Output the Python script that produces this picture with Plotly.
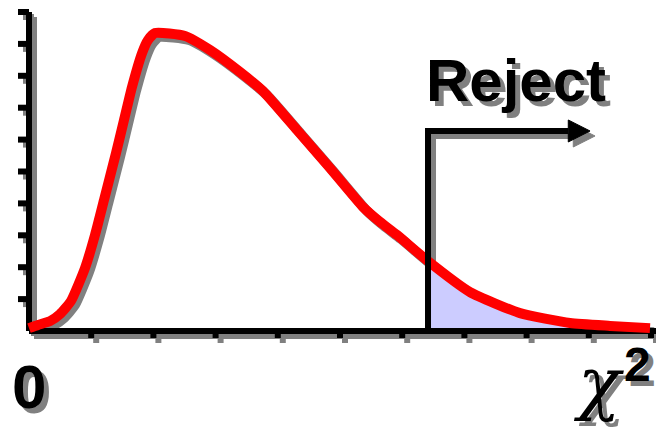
import plotly.graph_objects as go

# ---- data ----
chi_x = [0, 0.145, 0.338, 0.498, 0.675, 0.9, 1.061, 1.206, 1.399, 1.527, 1.656, 1.817, 1.913,
         2.026, 2.508, 2.91, 3.392, 3.762, 4.309, 4.839, 5.37, 5.643, 5.916, 6.415, 7.09,
         7.894, 8.698, 9.341, 9.984]
density = [0.09, 0.19, 0.31, 0.53, 0.94, 1.97, 3.01, 4.11, 5.58, 6.61, 7.65, 8.71, 9.12,
           9.34, 9.25, 8.81, 8.12, 7.52, 6.3, 5.11, 3.89, 3.42, 3.01, 2.19, 1.22,
           0.56, 0.25, 0.16, 0.09]
critical = 6.415
x_ticks = [1, 2, 3, 4, 5, 6, 7, 8, 9, 10]
y_ticks = [1, 2, 3, 4, 5, 6, 7, 8, 9, 10]
x_axis_end = 10.2
y_axis_end = 10
arrow_height = 6.27
arrow_end = 8.67
arrow_tip = 9.02
zero_label = "0"
axis_label = "χ"
axis_sup = "2"
reject_label = "Reject"

# ---- layout geometry (pixels) ----
W, H = 656, 430
X0_PX, Y0_PX = 29, 331
PX_X, PX_Y = 62.2, 31.9
RED, GRAY, SHADE = "#ff0000", "#808080", "#ccccff"
SMOOTH = 0.5


def dx(px):
    return px / PX_X


def dy(px):
    return px / PX_Y


fig = go.Figure()


def line(xs, ys, color, width, ox=0, oy=0, shape="linear"):
    ln = dict(color=color, width=width, shape=shape)
    if shape == "spline":
        ln["smoothing"] = SMOOTH
    fig.add_trace(go.Scatter(
        x=[None if v is None else v + dx(ox) for v in xs],
        y=[None if v is None else v - dy(oy) for v in ys],
        mode="lines", line=ln, hoverinfo="skip", showlegend=False))


def tri(color, ox=0, oy=0):
    half = dy(11)
    xs = [arrow_end, arrow_tip, arrow_end, arrow_end]
    ys = [arrow_height + half, arrow_height, arrow_height - half, arrow_height + half]
    fig.add_trace(go.Scatter(
        x=[v + dx(ox) for v in xs], y=[v - dy(oy) for v in ys],
        mode="lines", fill="toself", fillcolor=color, line=dict(color=color, width=1),
        hoverinfo="skip", showlegend=False))


# tick segments
ytx, yty = [], []
for t in y_ticks:
    ytx += [-dx(11), 0, None]
    yty += [t, t, None]
xtx, xty = [], []
for t in x_ticks:
    xtx += [t, t, None]
    xty += [0, -dy(7), None]

SO = 5  # shadow offset px
# --- shadows ---
line([0, x_axis_end], [0, 0], GRAY, 6, SO, SO)
line([0, 0], [0, y_axis_end], GRAY, 6, SO, SO)
line(ytx, yty, GRAY, 6, SO, SO)
line(xtx, xty, GRAY, 6, SO, SO)
line(chi_x, density, GRAY, 10, 4, 4, "spline")
line([critical, critical, arrow_end], [0, arrow_height, arrow_height], GRAY, 6, SO, SO)
tri(GRAY, SO, SO)

# --- shaded rejection region ---
tail_x = [v for v in chi_x if v >= critical]
tail_y = [d for v, d in zip(chi_x, density) if v >= critical]
fig.add_trace(go.Scatter(x=tail_x, y=tail_y, mode="lines", fill="tozeroy",
                         fillcolor=SHADE,
                         line=dict(color=SHADE, width=0, shape="spline", smoothing=SMOOTH),
                         hoverinfo="skip", showlegend=False))

# --- axes ---
line([0, x_axis_end], [0, 0], "black", 6)
line([0, 0], [0, y_axis_end], "black", 6)
line(ytx, yty, "black", 6)
line(xtx, xty, "black", 6)

# --- curve ---
line(chi_x, density, RED, 10, shape="spline")

# --- reject arrow ---
line([critical, critical, arrow_end], [0, arrow_height, arrow_height], "black", 6)
tri("black")

# --- text ---
SANS = "Liberation Sans, Arial, sans-serif"
SERIF = "DejaVu Serif, Liberation Serif, serif"


def label(text, xpx, ypx, size, family=SANS, bold=True, italic=False):
    for col, sh in ((GRAY, 5), ("black", 0)):
        fig.add_annotation(x=xpx / W, y=1 - ypx / H, xref="paper", yref="paper",
                           text=text, showarrow=False,
                           xanchor="center", yanchor="middle", xshift=sh, yshift=-sh,
                           font=dict(family=family, size=size, color=col,
                                     weight="bold" if bold else "normal",
                                     style="italic" if italic else "normal"))


label(reject_label, 516, 80, 60)
label(zero_label, 29, 386, 62)
label(axis_label, 598, 383, 70, family=SERIF, bold=False, italic=True)
label(axis_sup, 637, 364, 48)

fig.update_layout(
    width=W, height=H, margin=dict(l=0, r=0, t=0, b=0),
    paper_bgcolor="white", plot_bgcolor="white",
    xaxis=dict(range=[-X0_PX / PX_X, (W - X0_PX) / PX_X], visible=False, fixedrange=True),
    yaxis=dict(range=[-(H - Y0_PX) / PX_Y, Y0_PX / PX_Y], visible=False, fixedrange=True),
    showlegend=False,
)

fig.write_html("out.html", config={"displayModeBar": False},
               post_script="document.body.style.margin='0';document.body.style.overflow='hidden';")
